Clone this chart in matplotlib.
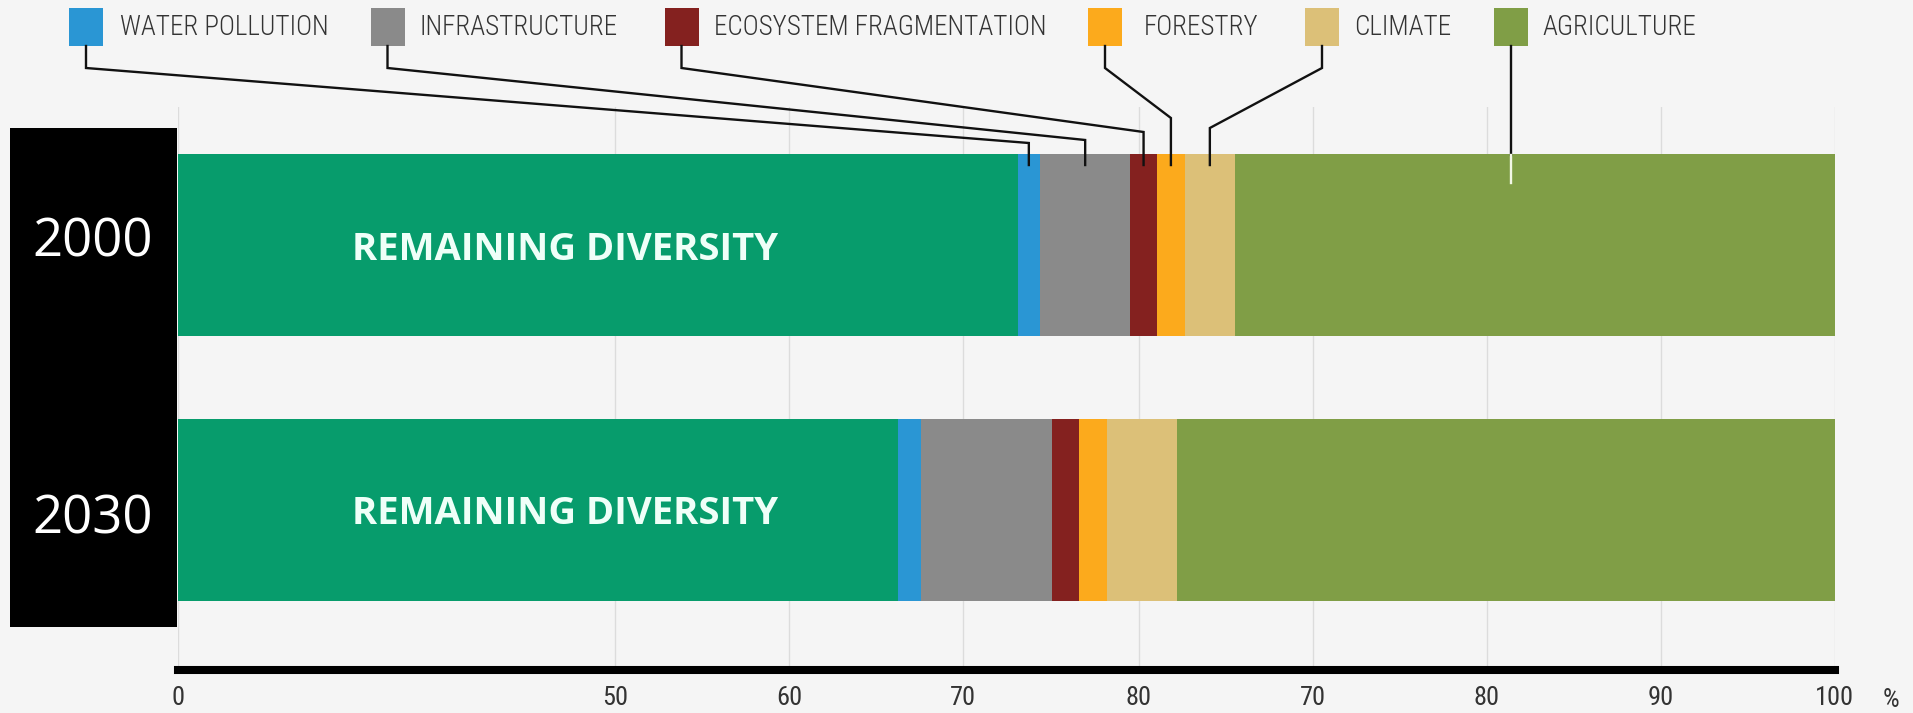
import matplotlib
matplotlib.use("Agg")
import matplotlib.pyplot as plt
import numpy as np
from matplotlib.patches import Rectangle
from matplotlib.lines import Line2D

W, H = 1913, 713
BG = '#f5f5f5'

years = ['2000', '2030']
causes = ['REMAINING DIVERSITY', 'WATER POLLUTION', 'INFRASTRUCTURE',
          'ECOSYSTEM FRAGMENTATION', 'FORESTRY', 'CLIMATE', 'AGRICULTURE']
colors = ['#079c6c', '#2a96d4', '#8a8a8a', '#84211f', '#fcaa1c', '#dcc078', '#809e46']

# segment widths along the bar, per year (share of the full bar)
shares_2000 = [50.7, 1.35, 5.45, 1.6, 1.7, 3.0, 36.2]
shares_2030 = [43.45, 1.4, 7.9, 1.65, 1.7, 4.2, 39.7]

# the printed scale is irregular: labels do not follow their positions
tick_pos = [0, 26.4, 36.9, 47.4, 58.0, 68.5, 79.0, 89.5, 100]
tick_labels = ['0', '50', '60', '70', '80', '70', '80', '90', '100']

# legend layout (pixels from the top-left corner)
legend_box_x = [69, 370.5, 664.5, 1088, 1305, 1493.5]
legend_text_x = [119.5, 419.5, 713.5, 1143.5, 1354, 1542.5]
elbow_y = [143, 140, 132, 118, 128]

cond = dict(fontfamily='Roboto Condensed', fontweight=300)
cond_tick = dict(fontfamily='Roboto Condensed', fontweight=400)


def fx(px):
    return px / W


def fy(py):
    return 1 - py / H


fig = plt.figure(figsize=(W / 100, H / 100), dpi=100, facecolor=BG)

ax_left, ax_right, ax_top, ax_bot = 177.6, 1834.5, 107, 669.5
ax = fig.add_axes([fx(ax_left), fy(ax_bot), (ax_right - ax_left) / W, (ax_bot - ax_top) / H])
ax.set_facecolor(BG)

bar_h = 0.687
data = np.array([shares_2000, shares_2030])
lefts = np.zeros(2)
for i, c in enumerate(causes):
    ax.barh([0, 1], data[:, i], left=lefts, height=bar_h, color=colors[i], zorder=2)
    lefts += data[:, i]

for yi in range(2):
    ax.text(23.4, yi, 'REMAINING DIVERSITY', color='#effff8', fontsize=27.5,
            fontfamily='Open Sans', fontweight='bold', ha='center', va='center_baseline',
            zorder=3)

ax.set_xlim(0, 100)
ax.set_ylim(1.602, -0.521)
ax.set_yticks([])
ax.set_xticks(tick_pos)
ax.set_xticklabels(tick_labels, fontsize=19, color='#333333', **cond_tick)
ax.tick_params(axis='x', length=0, pad=12)
ax.grid(axis='x', color='#dcdcdc', linewidth=1, zorder=0)
ax.set_axisbelow(True)
for s in ['left', 'top', 'right']:
    ax.spines[s].set_visible(False)
ax.spines['bottom'].set_color('black')
ax.spines['bottom'].set_linewidth(5.8)
ax.spines['bottom'].set_zorder(4)

fig.text(fx(1891), fy(700), '%', fontsize=19, color='#333333',
         ha='center', va='center', **cond_tick)

# black year panel
fig.add_artist(Rectangle((fx(10), fy(627)), (177 - 10) / W, (627 - 127.5) / H,
                         transform=fig.transFigure, facecolor='black', edgecolor='none'))
for label, py in zip(years, [236, 513]):
    fig.text(fx(93), fy(py), label, color='white', fontsize=38, fontfamily='Open Sans',
             ha='center', va='center_baseline')

# legend boxes and labels
for i in range(6):
    fig.add_artist(Rectangle((fx(legend_box_x[i]), fy(46)), 34 / W, 38 / H,
                             transform=fig.transFigure, facecolor=colors[i + 1],
                             edgecolor='none'))
    fig.text(fx(legend_text_x[i]), fy(35), causes[i + 1], fontsize=19.5,
             color='#333333', ha='left', va='baseline', **cond)

# leader lines from each legend box down into its 2000 segment
bar_top_px = H - ax.transData.transform((0, -bar_h / 2))[1]
starts = np.cumsum([0] + shares_2000[:-1])
centers = starts + np.array(shares_2000) / 2
for i in range(5):
    x0 = legend_box_x[i] + 17
    x1 = ax.transData.transform((centers[i + 1], 0))[0]
    xs = [x0, x0, x1, x1]
    ys = [46, 68, elbow_y[i], bar_top_px + 11]
    fig.add_artist(Line2D([fx(v) for v in xs], [fy(v) for v in ys], color='#111111',
                          linewidth=1.7, solid_joinstyle='miter'))

xa = legend_box_x[5] + 17
fig.add_artist(Line2D([fx(xa), fx(xa)], [fy(46), fy(bar_top_px + 1)], color='#111111',
                      linewidth=1.7))
fig.add_artist(Line2D([fx(xa), fx(xa)], [fy(bar_top_px + 1), fy(bar_top_px + 29)],
                      color='#f2f7e6', linewidth=1.7))

fig.savefig('out.png', dpi=100, facecolor=BG)
